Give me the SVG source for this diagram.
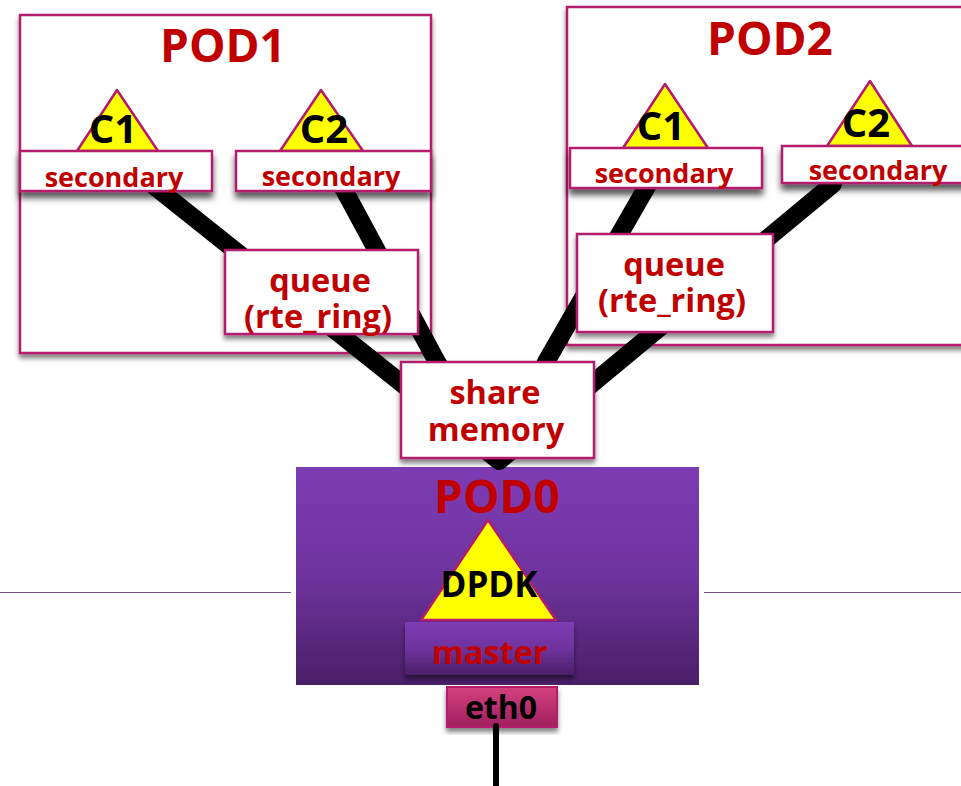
<svg xmlns="http://www.w3.org/2000/svg" width="961" height="786" viewBox="0 0 961 786">
<style>
text{font-family:"Open Sans","Noto Sans","Liberation Sans",sans-serif;font-weight:700;text-anchor:middle}
.box{fill:#fff;stroke:#b41a6e;stroke-width:2.5}
.tri{fill:#ff0;stroke:#b41a6e;stroke-width:2.5;stroke-linejoin:round}
.title{font-size:46px;fill:#c00000}
.sec{font-size:27px;fill:#c00000}
.lab{font-size:32.500px;fill:#c00000}
.c{font-size:40px;fill:#000}
.dpdk{font-size:35px;fill:#000}
.link{stroke:#000;stroke-width:18;fill:none;stroke-linecap:round;stroke-linejoin:round}
.rule{stroke:#7b4b94;stroke-width:1;fill:none}
</style>
<defs>
<linearGradient id="pur" x1="0" y1="0" x2="0" y2="1"><stop offset="0" stop-color="#7e3cb4"/><stop offset=".5" stop-color="#6e339e"/><stop offset="1" stop-color="#4a1f68"/></linearGradient>
<linearGradient id="pink" x1="0" y1="0" x2="0" y2="1"><stop offset="0" stop-color="#d4417f"/><stop offset="1" stop-color="#a01f5e"/></linearGradient>
<filter id="sh" x="-10%" y="-15%" width="120%" height="135%"><feDropShadow dx="0" dy="4" stdDeviation="2.500" flood-color="#000" flood-opacity=".5"/></filter>
<filter id="sh2" x="-10%" y="-30%" width="120%" height="170%"><feDropShadow dx="0" dy="6" stdDeviation="3" flood-color="#000" flood-opacity=".65"/></filter>
</defs>
<g id="rules"><path class="rule" d="M0 592.500H291M704 592.500H961"/></g>
<g id="pod1"><rect class="box" x="20" y="15" width="411" height="338" filter="url(#sh)"/><text class="title" x="223" y="62">POD1</text></g>
<g id="pod2"><rect class="box" x="567" y="7" width="400" height="338" filter="url(#sh)"/><text class="title" x="770" y="55">POD2</text></g>
<g id="pod0-body"><rect x="296" y="467" width="403" height="218" fill="url(#pur)"/></g>
<g id="connectors">
<path class="link" d="M154 186L499 461M342 186L437 362L499 461M649 183L546 362L499 461M833 184L499 461"/>
</g>
<g id="pod1-c1"><path class="tri" d="M117 90L77 151H158Z"/><text class="c" x="113" y="143">C1</text><rect class="box" x="20" y="151" width="192" height="40" filter="url(#sh2)"/><text class="sec" x="114" y="187">secondary</text></g>
<g id="pod1-c2"><path class="tri" d="M321 90L280 151H363Z"/><text class="c" x="324" y="143">C2</text><rect class="box" x="236" y="151" width="195" height="40" filter="url(#sh2)"/><text class="sec" x="331" y="186">secondary</text></g>
<g id="pod1-queue"><rect class="box" x="225" y="250" width="193" height="84" filter="url(#sh)"/><text class="lab" x="320" y="292">queue</text><text class="lab" x="318" y="328">(rte_ring)</text></g>
<g id="pod2-c1"><path class="tri" d="M665 84L623 148H708Z"/><text class="c" x="661" y="140">C1</text><rect class="box" x="570" y="148" width="192" height="40" filter="url(#sh2)"/><text class="sec" x="664" y="183">secondary</text></g>
<g id="pod2-c2"><path class="tri" d="M870 81L827 146H912Z"/><text class="c" x="866" y="137">C2</text><rect class="box" x="782" y="146" width="190" height="37" filter="url(#sh2)"/><text class="sec" x="878" y="180">secondary</text></g>
<g id="pod2-queue"><rect class="box" x="577" y="234" width="196" height="98" filter="url(#sh)"/><text class="lab" x="674" y="276">queue</text><text class="lab" x="672" y="312">(rte_ring)</text></g>
<g id="share"><rect class="box" x="401" y="362" width="193" height="96" filter="url(#sh)"/><text class="lab" x="495" y="404">share</text><text class="lab" x="496" y="441">memory</text></g>
<g id="pod0"><text class="title" x="497" y="513">POD0</text>
<path class="tri" d="M488 520L421 620H556Z"/><text class="dpdk" x="489" y="597">DPDK</text>
<g id="master"><rect x="405" y="622" width="169" height="53" fill="url(#pur)" filter="url(#sh)"/><text class="lab" x="490" y="664">master</text></g></g>
<g id="eth0"><rect x="447" y="687" width="110" height="40" fill="url(#pink)" stroke="#b41a6e" stroke-width="2" filter="url(#sh)"/><text x="501" y="719" style="font-size:32px;fill:#000">eth0</text></g>
<path id="uplink" d="M496 726V786" stroke="#000" stroke-width="6" stroke-linecap="round" fill="none"/>
</svg>
